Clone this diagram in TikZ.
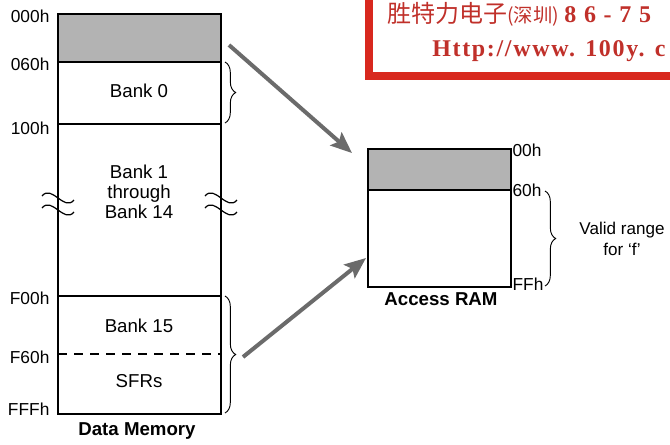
\documentclass[tikz,border=0pt]{standalone}
\usepackage{fontspec}
\setmainfont{Liberation Sans}
\newfontfamily\cjkfont{Noto Sans CJK SC}
\newfontfamily\stampfont[LetterSpace=7]{Liberation Serif}
\newfontfamily\stampdigits[LetterSpace=32]{Liberation Serif}
\usetikzlibrary{positioning, calc, arrows.meta, decorations.pathreplacing}

\definecolor{regfill}{HTML}{B3B3B3}
\definecolor{arrowgray}{HTML}{6B6B6B}
\definecolor{stampred}{HTML}{D8281E}
\definecolor{stamptext}{HTML}{C0302A}

\tikzset{
  memline/.style={line width=1.5pt},
  addr/.style={font=\fontsize{13}{15}\selectfont, inner sep=1pt},
  banktext/.style={font=\fontsize{14}{15}\selectfont, align=center, inner sep=0pt},
  notetext/.style={font=\fontsize{12.8}{15.7}\selectfont, align=center, inner sep=0pt},
  caption/.style={font=\bfseries\fontsize{14}{16}\selectfont, inner sep=0pt},
  rangebrace/.style={decorate, decoration={brace, amplitude=8pt}, line width=0.7pt},
  maparrow/.style={arrowgray, line width=3pt, -{Stealth[length=16pt, width=13pt, inset=3pt]}},
  squiggle/.style={line width=0.9pt}
}

\begin{document}
\begin{tikzpicture}[x=0.75pt, y=-0.75pt]
    \useasboundingbox (0,0) rectangle (670,444);

    % --- Stamp (top right) ---
    \begin{scope}
        \clip (0,0) rectangle (670,444);
        \draw[stampred, line width=5.5pt] (369,-20) rectangle (700,76);
        \node[stamptext, anchor=west, inner sep=0pt] (stampA) at (387,14)
            {\cjkfont\fontsize{18}{18}\selectfont 胜特力电子{\fontsize{14.5}{14.5}\selectfont(深圳)}\ \stampdigits\bfseries\fontsize{18}{18}\selectfont 86-75};
        \node[stamptext, anchor=west, inner sep=0pt] (stampB) at (432,51)
            {\stampfont\bfseries\fontsize{18}{18}\selectfont Http://www. 100y. c};
    \end{scope}

    % --- Data Memory (left column) ---
    \fill[regfill] (58,14) rectangle (221,62);
    \draw[memline] (58,14) rectangle (221,414);
    \draw[memline] (58,62) -- (221,62);
    \draw[memline] (58,124) -- (221,124);
    \draw[memline] (58,296) -- (221,296);
    \draw[memline, dashed, dash pattern=on 7pt off 5pt] (58,354) -- (221,354);

    % --- Address labels ---
    \node[addr, anchor=east] (d000) at (51,16) {000h};
    \node[addr, anchor=east] (d060) at (51,64) {060h};
    \node[addr, anchor=east] (d100) at (51,128) {100h};
    \node[addr, anchor=east] (dF00) at (51,298) {F00h};
    \node[addr, anchor=east] (dF60) at (51,357) {F60h};
    \node[addr, anchor=east] (dFFF) at (51,409) {FFFh};

    % --- Bank texts ---
    \node[banktext] (bank0) at (139,91) {Bank 0};
    \node[banktext] (bankmid) at (139,192) {Bank 1\\through\\Bank 14};
    \node[banktext] (bank15) at (139,326) {Bank 15};
    \node[banktext] (sfrs) at (139,381) {SFRs};
    \node[caption] (datamem) at (137,431) {Data Memory};

    % --- Break marks ---
    \foreach \bx in {58,221}{
        \foreach \by in {198,210}{
            \draw[squiggle] (\bx-16,\by-2) .. controls (\bx-6,\by-14) and (\bx+6,\by+14) .. (\bx+16,\by+2);
        }
    }

    % --- Braces on the data memory ---
    \draw[rangebrace] (225,62) -- (225,123);
    \draw[rangebrace] (225,296) -- (225,413);

    % --- Access RAM (right) ---
    \fill[regfill] (368,149) rectangle (511,190);
    \draw[memline] (368,149) rectangle (511,287);
    \draw[memline] (368,190) -- (511,190);
    \node[addr, anchor=west] (a00) at (511,150) {00h};
    \node[addr, anchor=west] (a60) at (511,190) {60h};
    \node[addr, anchor=west] (aFF) at (511,284) {FFh};
    \node[caption] (accram) at (441,299) {Access RAM};

    \draw[rangebrace] (545,191) -- (545,286);
    \node[notetext] (valid) at (622,239) {Valid range\\for `f'};

    % --- Mapping arrows ---
    \coordinate (gprTop) at (229,45);
    \coordinate (accTop) at (352,153);
    \coordinate (gprBot) at (243,357);
    \coordinate (accBot) at (366,258);
    \draw[maparrow] (gprTop) -- (accTop);
    \draw[maparrow] (gprBot) -- (accBot);

\end{tikzpicture}
\end{document}
